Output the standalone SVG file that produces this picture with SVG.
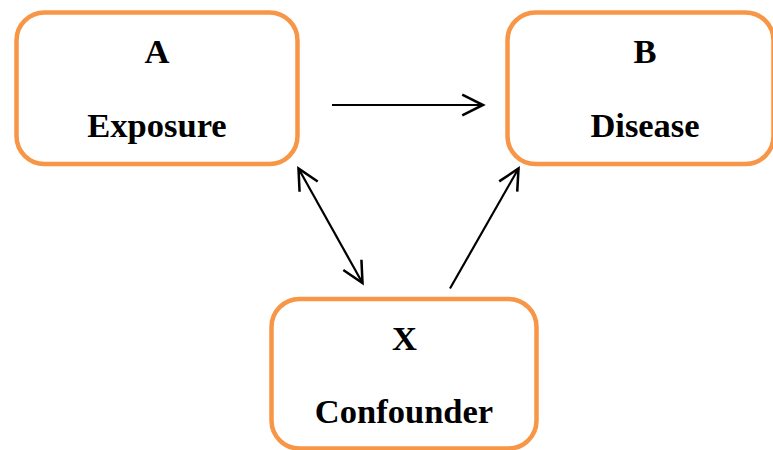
<svg xmlns="http://www.w3.org/2000/svg" width="773" height="450" viewBox="0 0 773 450">
<style>
.box{fill:#ffffff;stroke:#F79646;stroke-width:4.5}
.t{font-family:"Liberation Serif","Times New Roman",serif;font-weight:bold;font-size:34.5px;fill:#000;text-anchor:middle}
.c{stroke:#000;stroke-width:2.2;fill:none}
</style>
<defs>
<marker id="ah" markerUnits="userSpaceOnUse" markerWidth="30" markerHeight="30" viewBox="-22 -12 26 24" refX="0" refY="0" orient="auto-start-reverse">
<path d="M-18,-9 L0,0 L-18,9" fill="none" stroke="#000" stroke-width="2.2"/>
</marker>
</defs>
<rect width="773" height="450" fill="#ffffff"/>
<g id="connectors">
<line class="c" x1="332" y1="105" x2="483" y2="105" marker-end="url(#ah)"/>
<line class="c" x1="298.5" y1="168.5" x2="362.5" y2="283" marker-start="url(#ah)" marker-end="url(#ah)"/>
<line class="c" x1="450" y1="288.5" x2="518.5" y2="168.5" marker-end="url(#ah)"/>
</g>
<g id="nodeA">
<rect class="box" x="16.5" y="12.5" width="281" height="151.5" rx="28"/>
<text class="t" x="157" y="63">A</text>
<text class="t" x="157" y="137">Exposure</text>
</g>
<g id="nodeB">
<rect class="box" x="507.5" y="12.5" width="266" height="151.5" rx="28"/>
<text class="t" x="645" y="63">B</text>
<text class="t" x="645" y="137">Disease</text>
</g>
<g id="nodeX">
<rect class="box" x="271.5" y="299" width="265" height="149.5" rx="28"/>
<text class="t" x="404.5" y="350">X</text>
<text class="t" x="404" y="423">Confounder</text>
</g>
</svg>
